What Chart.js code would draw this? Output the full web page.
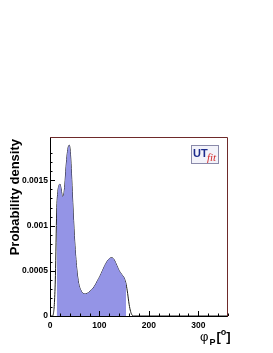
<!DOCTYPE html>
<html>
<head>
<meta charset="utf-8">
<script src="https://cdn.jsdelivr.net/npm/chart.js@4/dist/chart.umd.min.js"></script>
<style>
  html, body { margin: 0; padding: 0; background: #fff; }
  #box { width: 273px; height: 353px; }
</style>
</head>
<body>
<div id="box"><canvas id="grafica"></canvas></div>
<script>
// Datos: phi_P en grados y densidad de probabilidad
const phi = [0, 5, 7, 9, 11, 13.5, 16, 18, 20, 22, 25.5, 28, 30, 32.5, 35, 37, 39, 41, 43, 45, 47, 50, 54, 58, 62, 67, 72, 78, 84, 90, 96, 101, 106, 111, 115, 120, 125, 130, 135, 140, 145, 150, 154, 157, 160, 163, 166, 170, 180, 360];
const densidad = [0, 0, 0.00003, 0.00015, 0.00045, 0.00115, 0.00138, 0.00144, 0.00146, 0.00142, 0.00132, 0.00135, 0.00145, 0.00165, 0.0018, 0.00187, 0.00189, 0.00182, 0.00163, 0.00138, 0.00114, 0.00082, 0.00053, 0.00036, 0.00029, 0.00025, 0.000245, 0.00026, 0.00029, 0.00033, 0.00039, 0.00044, 0.0005, 0.00056, 0.0006, 0.000635, 0.000645, 0.00062, 0.00056, 0.0005, 0.00046, 0.00042, 0.00035, 0.00025, 0.00013, 0.00005, 0.00001, 0, 0, 0];
// Intervalo relleno (región de probabilidad)
const rellenoDesde = 13.5;
const rellenoHasta = 154;
// Etiquetas de los ejes
const xMayores = [0, 100, 200, 300];
const xEtiquetas = ["0", "100", "200", "300"];
const yMayores = [0, 0.0005, 0.001, 0.0015];
const yEtiquetas = ["0", "0.0005", "0.001", "0.0015"];

const curva = phi.map((p, i) => ({ x: p, y: densidad[i] }));
const relleno = phi.map((p, i) => ({ x: p, y: (p >= rellenoDesde && p <= rellenoHasta) ? densidad[i] : null }));

const fuente = "'Liberation Sans', Arial, sans-serif";

function etiquetaX(v) {
  const i = xMayores.findIndex(m => Math.abs(m - v) < 1e-6);
  return i >= 0 ? xEtiquetas[i] : "";
}
function etiquetaY(v) {
  const i = yMayores.findIndex(m => Math.abs(m - v) < 1e-9);
  return i >= 0 ? yEtiquetas[i] : "";
}

// Marco, marcas interiores, títulos y logo al estilo ROOT
const estiloRoot = {
  id: "estiloRoot",
  afterDraw(chart) {
    const { ctx, chartArea: a, scales } = chart;
    ctx.save();
    ctx.lineWidth = 1;
    // marcas de los ejes (hacia dentro)
    ctx.strokeStyle = "#000";
    ctx.beginPath();
    scales.x.ticks.forEach(t => {
      const px = Math.round(scales.x.getPixelForValue(t.value)) + 0.5;
      const largo = etiquetaX(t.value) ? 5 : 2.5;
      ctx.moveTo(px, a.bottom);
      ctx.lineTo(px, a.bottom - largo);
    });
    scales.y.ticks.forEach(t => {
      const py = Math.round(scales.y.getPixelForValue(t.value)) + 0.5;
      const largo = etiquetaY(t.value) ? 5 : 2.5;
      ctx.moveTo(a.left, py);
      ctx.lineTo(a.left + largo, py);
    });
    ctx.stroke();
    // marco
    ctx.beginPath();
    ctx.moveTo(a.left + 0.5, a.top);
    ctx.lineTo(a.left + 0.5, a.bottom + 0.5);
    ctx.lineTo(a.right, a.bottom + 0.5);
    ctx.stroke();
    ctx.strokeStyle = "#6e2a2a";
    ctx.beginPath();
    ctx.moveTo(a.left, a.top + 0.5);
    ctx.lineTo(a.right - 0.5, a.top + 0.5);
    ctx.lineTo(a.right - 0.5, a.bottom + 0.5);
    ctx.stroke();

    // título eje y
    ctx.fillStyle = "#000";
    ctx.save();
    ctx.translate(15, a.top + 2);
    ctx.rotate(-Math.PI / 2);
    ctx.font = "bold 13px " + fuente;
    ctx.textAlign = "right";
    ctx.textBaseline = "middle";
    ctx.fillText("Probability density", 0, 0);
    ctx.restore();

    // título eje x: φ_P [°]
    ctx.textBaseline = "alphabetic";
    ctx.textAlign = "left";
    ctx.font = "13px " + fuente;
    let x0 = 200;
    ctx.fillText("φ", x0, 341);
    x0 += ctx.measureText("φ").width + 1;
    ctx.font = "bold 9px " + fuente;
    ctx.fillText("P", x0, 345);
    x0 += ctx.measureText("P").width + 1;
    ctx.font = "bold 13px " + fuente;
    ctx.fillText("[", x0, 341);
    x0 += ctx.measureText("[").width;
    ctx.font = "bold 9px " + fuente;
    ctx.fillText("o", x0, 335);
    x0 += ctx.measureText("o").width;
    ctx.font = "bold 13px " + fuente;
    ctx.fillText("]", x0, 341);

    // logo UTfit
    ctx.fillStyle = "#f3f3fa";
    ctx.fillRect(191, 145, 28, 19);
    ctx.strokeStyle = "#8a8aaa";
    ctx.strokeRect(191.5, 145.5, 27, 18);
    ctx.fillStyle = "#1c2b8c";
    ctx.font = "bold 11px " + fuente;
    ctx.fillText("UT", 193, 157);
    ctx.fillStyle = "#d42a2a";
    ctx.font = "italic 11px 'Liberation Serif', serif";
    ctx.fillText("fit", 207, 161);
    ctx.restore();
  }
};

new Chart(document.querySelector("#grafica"), {
  type: "line",
  data: {
    datasets: [
      {
        data: relleno,
        fill: "origin",
        backgroundColor: "rgb(148,148,230)",
        borderWidth: 0,
        pointRadius: 0,
        cubicInterpolationMode: "monotone",
        spanGaps: false,
      },
      {
        data: curva,
        fill: false,
        borderColor: "#1a1a1a",
        borderWidth: 1,
        pointRadius: 0,
        cubicInterpolationMode: "monotone",
      },
    ],
  },
  options: {
    responsive: true,
    maintainAspectRatio: false,
    animation: false,
    events: [],
    layout: { padding: { top: 137, right: 45, left: 0, bottom: 0 } },
    plugins: { legend: { display: false }, tooltip: { enabled: false } },
    scales: {
      x: {
        type: "linear",
        min: 0,
        max: 360,
        grid: { display: false, drawTicks: false },
        border: { display: false },
        afterFit: s => { s.height = 37; },
        ticks: {
          stepSize: 20,
          autoSkip: false,
          maxRotation: 0,
          padding: 5,
          color: "#000",
          font: { family: fuente, size: 8.5, weight: "bold" },
          callback: v => etiquetaX(v),
        },
      },
      y: {
        min: 0,
        max: 0.00198,
        grid: { display: false, drawTicks: false },
        border: { display: false },
        afterFit: s => { s.width = 50; },
        ticks: {
          stepSize: 0.0001,
          autoSkip: false,
          padding: 2,
          color: "#000",
          font: { family: fuente, size: 8.5, weight: "bold" },
          callback: v => etiquetaY(v),
        },
      },
    },
  },
  plugins: [estiloRoot],
});
</script>
</body>
</html>
